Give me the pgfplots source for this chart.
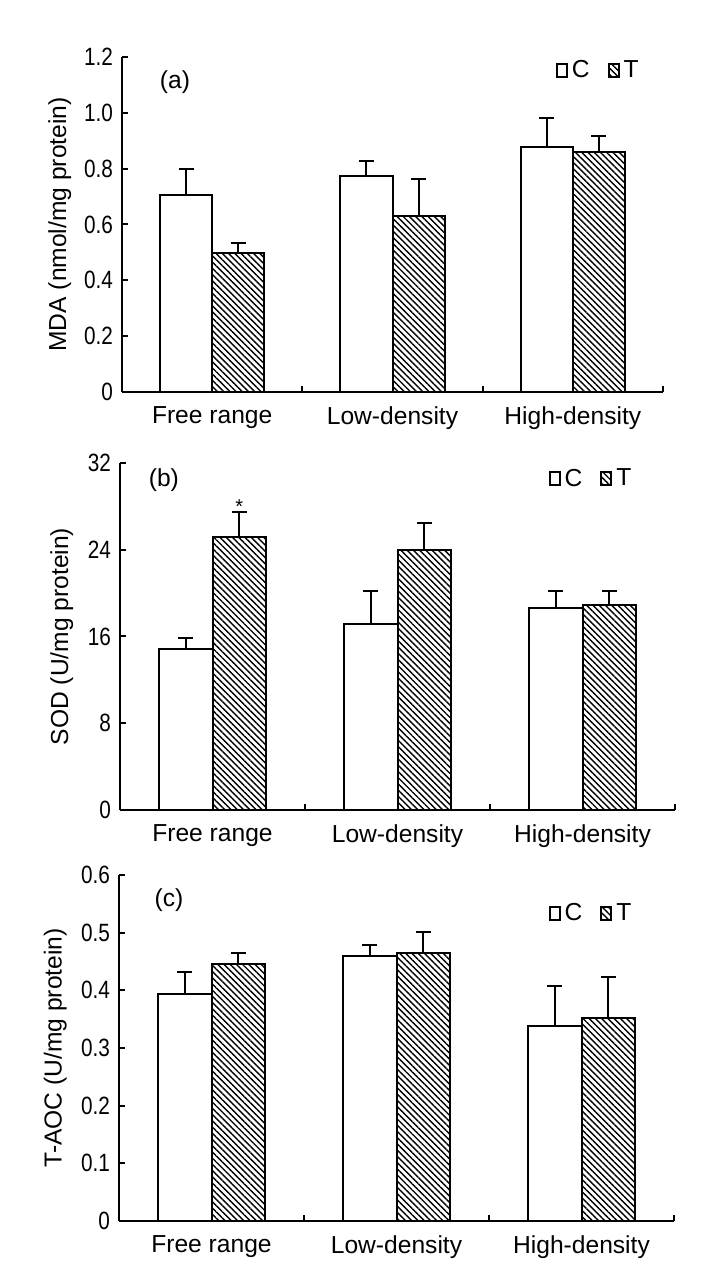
\documentclass[border=0pt]{standalone}
\usepackage{fontspec}
\setmainfont{Liberation Sans}
\newfontfamily\narrowfont{Liberation Sans}[FakeStretch=0.83]
\usepackage{pgfplots}
\pgfplotsset{compat=1.18}
\usetikzlibrary{patterns.meta}

\pgfplotsset{
  boxlegend/.style={legend image code/.code={\draw[##1,line width=1pt] (0pt,-3.25pt) rectangle (5pt,3.25pt);}},
  cbar/.style={fill=white, draw=black, line width=1pt, boxlegend,
    error bars/.cd, y dir=plus, y explicit,
    error bar style={line width=1pt, black},
    error mark options={rotate=90, mark size=3.75pt, line width=1pt, black}},
  tbar/.style={draw=black, line width=1pt, pattern={Lines[angle=-45,distance=2.2pt,line width=0.7pt]}, boxlegend,
    error bars/.cd, y dir=plus, y explicit,
    error bar style={line width=1pt, black},
    error mark options={rotate=90, mark size=3.75pt, line width=1pt, black}},
  panel/.style={
    scale only axis, anchor=south west, clip=false,
    ybar=0pt, bar width=0.29,
    xmin=-0.5, xmax=2.5, ymin=0,
    axis x line*=bottom, axis y line*=left,
    axis line style={line width=1pt, -},
    xtick={0.5,1.5,2.5}, xticklabels={},
    extra x ticks={0,1,2},
    extra x tick labels={Free range, Low-density, High-density},
    extra x tick style={major tick length=0pt, xticklabel style={yshift=-4pt}},
    tick align=inside, major tick length=3pt,
    tick style={line width=1pt, black},
    yticklabel style={font=\narrowfont\fontsize{12.5}{14}\selectfont, xshift=-1pt},
    xticklabel style={font=\fontsize{12.3}{14}\selectfont},
    legend style={draw=none, fill=none, legend columns=2, font=\fontsize{12.3}{14}\selectfont,
      /tikz/every even column/.append style={column sep=7pt}, inner sep=1pt},
  }
}

\begin{document}
\begin{tikzpicture}[x=1pt,y=1pt]
\useasboundingbox (0,0) rectangle (362,644);

% (a) MDA
\begin{axis}[panel, at={(61pt,448pt)}, width=270.5pt, height=167.5pt,
  ymax=1.2, ytick={0,0.2,0.4,0.6,0.8,1.0,1.2},
  yticklabels={0,0.2,0.4,0.6,0.8,1.0,1.2},
  ylabel={MDA (nmol/mg protein)},
  ylabel style={font=\fontsize{12.3}{14}\selectfont, at={(axis description cs:-0.115,0.5)}, anchor=center},
  legend style={at={(axis description cs:0.967,0.96)}, anchor=east}]
\addplot[cbar] coordinates {(0,0.706) +- (0,0.094) (1,0.773) +- (0,0.056) (2,0.879) +- (0,0.104)};
\addplot[tbar] coordinates {(0,0.498) +- (0,0.036) (1,0.632) +- (0,0.132) (2,0.859) +- (0,0.057)};
\legend{C,T}
\node[font=\fontsize{12.3}{14}\selectfont] at (rel axis cs:0.098,0.925) {(a)};
\end{axis}

% (b) SOD
\begin{axis}[panel, at={(60pt,239pt)}, width=277.5pt, height=173.5pt,
  ymax=32, ytick={0,8,16,24,32},
  yticklabels={0,8,16,24,32},
  ylabel={SOD (U/mg protein)},
  ylabel style={font=\fontsize{12.3}{14}\selectfont, at={(axis description cs:-0.105,0.5)}, anchor=center},
  legend style={at={(axis description cs:0.933,0.954)}, anchor=east}]
\addplot[cbar] coordinates {(0,14.86) +- (0,1.04) (1,17.17) +- (0,2.98) (2,18.64) +- (0,1.51)};
\addplot[tbar] coordinates {(0,25.2) +- (0,2.3) (1,23.96) +- (0,2.51) (2,18.95) +- (0,1.2)};
\legend{C,T}
\node[font=\fontsize{12.3}{14}\selectfont] at (rel axis cs:0.079,0.951) {(b)};
\node[font=\fontsize{10}{12}\selectfont, anchor=base] at (axis cs:0.145,27.3) {*};
\end{axis}

% (c) T-AOC
\begin{axis}[panel, at={(59.5pt,33.5pt)}, width=277.5pt, height=173pt,
  ymax=0.6, ytick={0,0.1,0.2,0.3,0.4,0.5,0.6},
  yticklabels={0,0.1,0.2,0.3,0.4,0.5,0.6},
  ylabel={T-AOC (U/mg protein)},
  ylabel style={font=\fontsize{12.3}{14}\selectfont, at={(axis description cs:-0.115,0.5)}, anchor=center},
  legend style={at={(axis description cs:0.935,0.89)}, anchor=east}]
\addplot[cbar] coordinates {(0,0.394) +- (0,0.037) (1,0.460) +- (0,0.018) (2,0.338) +- (0,0.070)};
\addplot[tbar] coordinates {(0,0.446) +- (0,0.018) (1,0.464) +- (0,0.038) (2,0.352) +- (0,0.071)};
\legend{C,T}
\node[font=\fontsize{12.3}{14}\selectfont] at (rel axis cs:0.09,0.928) {(c)};
\end{axis}
\end{tikzpicture}
\end{document}
